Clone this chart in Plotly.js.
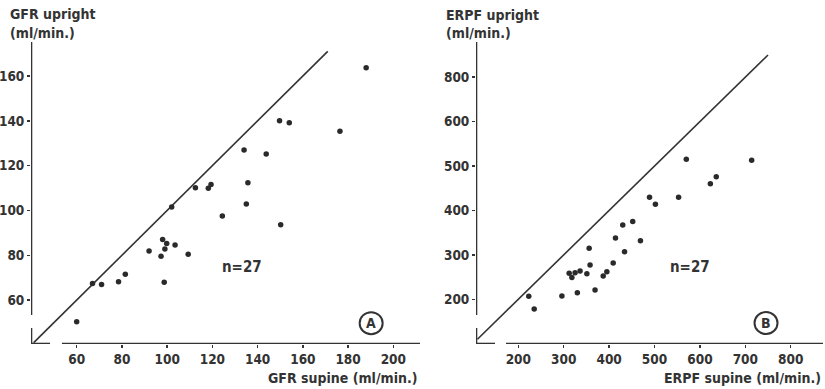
<!DOCTYPE html>
<html>
<head>
<meta charset="utf-8">
<script src="https://cdn.plot.ly/plotly-3.0.1.min.js"></script>
<style>html,body{margin:0;padding:0;background:#fff;}#chart{width:825px;height:389px;}</style>
</head>
<body>
<div id="chart"></div>
<script>
// Panel A: GFR (ml/min)
const gfrSupine  = [60, 67, 71, 78.5, 81.5, 92, 97.3, 98, 99, 99.8, 98.7, 103.5, 102, 109.3, 112.5, 118.2, 119.4, 124.4, 134, 135, 135.7, 143.8, 149.7, 154, 150.2, 176.4, 188];
const gfrUpright = [50.3, 67.4, 67, 68.2, 71.5, 81.9, 79.6, 87.1, 82.8, 85.3, 68, 84.6, 101.5, 80.5, 110.1, 109.9, 111.6, 97.5, 127, 102.9, 112.4, 125.2, 140.1, 139.2, 93.6, 135.4, 163.7];
// Panel B: ERPF (ml/min)
const erpfSupine  = [223, 235, 296, 312, 318, 325, 336, 330, 351, 356, 358, 369, 387, 395, 409, 414, 430, 434, 452, 469, 489, 502, 553, 570, 623, 636, 714];
const erpfUpright = [207, 178, 207.5, 258.5, 249, 260, 264, 215, 257.6, 315, 277, 221, 252.5, 262, 282, 338, 367, 307, 375, 332, 430, 414, 430, 515, 460, 476, 513];
// identity lines
const identA = [41, 171];
const identB = [110, 750];
// ticks
const gfrXTicks = [60, 80, 100, 120, 140, 160, 180, 200];
const gfrYTicks = [60, 80, 100, 120, 140, 160];
const erpfXTicks = [200, 300, 400, 500, 600, 700, 800];
const erpfYTickVals = [200, 300, 400, 500, 600, 700];
const erpfYTickText = ['200', '300', '400', '500', '600', '800'];

const INK = '#333333';
const FONT = 'DejaVu Sans Condensed, DejaVu Sans, sans-serif';
const W = 825, H = 389, MT = 42, MB = 45;
const PH = H - MT - MB;
const px = v => v / W;
const py = v => (H - MB - v) / PH;

const xA = [39.8, 211.8], yA = [40.4, 175.2];
const xB = [106.8, 871.1], yB = [99.4, 779.2];

const traces = [
  {x: identA, y: identA, mode: 'lines', line: {color: INK, width: 1.6}, xaxis: 'x', yaxis: 'y', hoverinfo: 'skip'},
  {x: gfrSupine, y: gfrUpright, mode: 'markers', marker: {color: '#2a2a2a', size: 5.5}, xaxis: 'x', yaxis: 'y'},
  {x: identB, y: identB, mode: 'lines', line: {color: INK, width: 1.6}, xaxis: 'x2', yaxis: 'y2', hoverinfo: 'skip'},
  {x: erpfSupine, y: erpfUpright, mode: 'markers', marker: {color: '#2a2a2a', size: 5.5}, xaxis: 'x2', yaxis: 'y2'}
];

const axCommon = {
  showgrid: false, zeroline: false, showline: false,
  ticks: 'outside', ticklen: 3, tickwidth: 1.5, tickcolor: INK,
  tickfont: {family: FONT, size: 13.5, color: INK, weight: 'bold'},
  fixedrange: true
};

function seg(xr, yr, x0, y0, x1, y1, w) {
  return {type: 'line', xref: xr, yref: yr, x0, y0, x1, y1, line: {color: INK, width: w || 2.6}};
}
function ring(xr, yr, cx, cy) {
  return {type: 'circle', xref: xr, yref: yr, xsizemode: 'pixel', ysizemode: 'pixel',
    xanchor: cx, yanchor: cy, x0: -11.5, x1: 11.5, y0: -11, y1: 11, line: {color: INK, width: 2}};
}

const shapes = [
  // Panel A broken axes
  seg('x', 'y', xA[0], 53.3, xA[0], yA[1]),
  seg('x', 'y', xA[0], 47.5, xA[0], yA[0]),
  seg('x', 'y', xA[0], yA[0], 48.2, yA[0]),
  seg('x', 'y', 53.5, yA[0], xA[1], yA[0]),
  ring('x', 'y', 190.2, 49.7),
  // Panel B broken axes
  seg('x2', 'y2', xB[0], 164.7, xB[0], yB[1]),
  seg('x2', 'y2', xB[0], 135.4, xB[0], yB[0]),
  seg('x2', 'y2', xB[0], yB[0], 148.7, yB[0]),
  seg('x2', 'y2', 172.9, yB[0], xB[1], yB[0]),
  ring('x2', 'y2', 745.6, 146.6)
];

function txt(text, x, y, xanchor, size) {
  return {text, xref: 'paper', yref: 'paper', x: px(x), y: py(y), xanchor: xanchor || 'left', yanchor: 'middle',
    showarrow: false, font: {family: FONT, size: size || 14, color: INK, weight: 'bold'}};
}

const annotations = [
  txt('GFR upright', 8, 14),
  txt('(ml/min.)', 8, 33),
  txt('GFR supine (ml/min.)', 419, 378, 'right'),
  txt('n=27', 242, 267, 'center', 15),
  txt('A', 371, 323, 'center', 14),
  txt('ERPF upright', 444, 15),
  txt('(ml/min.)', 444, 33),
  txt('ERPF supine (ml/min.)', 823, 378, 'right'),
  txt('n=27', 690, 267, 'center', 15),
  txt('B', 766, 323, 'center', 14)
];

const layout = {
  width: W, height: H,
  margin: {l: 0, r: 0, t: MT, b: MB},
  paper_bgcolor: '#fff', plot_bgcolor: 'rgba(0,0,0,0)',
  showlegend: false,
  xaxis: Object.assign({}, axCommon, {domain: [px(31), px(420)], range: xA, tickvals: gfrXTicks, anchor: 'y'}),
  yaxis: Object.assign({}, axCommon, {domain: [0, 1], range: yA, tickvals: gfrYTicks, anchor: 'x'}),
  xaxis2: Object.assign({}, axCommon, {domain: [px(476), px(823)], range: xB, tickvals: erpfXTicks, anchor: 'y2'}),
  yaxis2: Object.assign({}, axCommon, {domain: [0, 1], range: yB, tickvals: erpfYTickVals, ticktext: erpfYTickText, anchor: 'x2'}),
  shapes, annotations
};

Plotly.newPlot('chart', traces, layout, {staticPlot: true, displayModeBar: false});
</script>
</body>
</html>
